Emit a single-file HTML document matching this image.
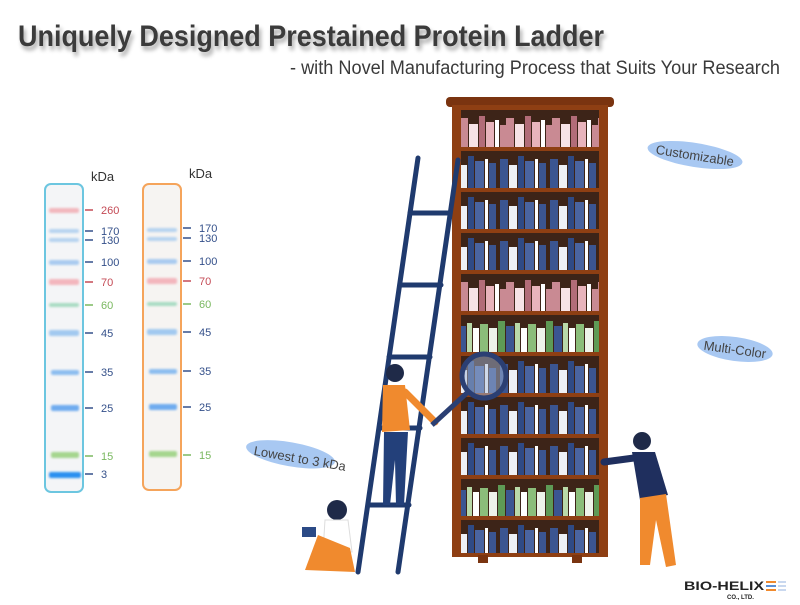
<!DOCTYPE html>
<html><head><meta charset="utf-8"><style>
body{margin:0;background:#fff;}
svg{display:block;font-family:"Liberation Sans",sans-serif;}
</style></head><body>
<svg width="800" height="605" viewBox="0 0 800 605" xmlns="http://www.w3.org/2000/svg">
<defs>
<filter id="sh" x="-5%" y="-20%" width="110%" height="160%"><feGaussianBlur in="SourceAlpha" stdDeviation="2"/><feOffset dx="2" dy="4"/><feComponentTransfer><feFuncA type="linear" slope="0.35"/></feComponentTransfer><feMerge><feMergeNode/><feMergeNode in="SourceGraphic"/></feMerge></filter>
<filter id="bl"><feGaussianBlur stdDeviation="1"/></filter>
<pattern id="pPink" x="0" y="110" width="46" height="41" patternUnits="userSpaceOnUse">
<rect x="0" y="8" width="8" height="29" fill="#c98a93"/><rect x="9" y="14" width="9" height="23" fill="#f7e3e6"/><rect x="19" y="6" width="6" height="31" fill="#b26c78"/><rect x="26" y="12" width="8" height="25" fill="#e8b4bc"/><rect x="35" y="10" width="4" height="27" fill="#fff"/><rect x="40" y="15" width="6" height="22" fill="#c98a93"/></pattern>
<pattern id="pBlue" x="0" y="110" width="50" height="41" patternUnits="userSpaceOnUse">
<rect x="0" y="8" width="8" height="29" fill="#3b5591"/><rect x="9" y="14" width="8" height="23" fill="#eef0f5"/><rect x="18" y="5" width="6" height="32" fill="#2f4a85"/><rect x="25" y="10" width="9" height="27" fill="#4a64a0"/><rect x="35" y="8" width="3" height="29" fill="#fff"/><rect x="39" y="12" width="7" height="25" fill="#3b5591"/></pattern>
<pattern id="pGreen" x="0" y="110" width="48" height="41" patternUnits="userSpaceOnUse">
<rect x="0" y="9" width="8" height="28" fill="#8bbd7a"/><rect x="9" y="13" width="8" height="24" fill="#eef3ea"/><rect x="18" y="6" width="7" height="31" fill="#5e9a55"/><rect x="26" y="11" width="8" height="26" fill="#3b5591"/><rect x="35" y="8" width="5" height="29" fill="#b9d9a9"/><rect x="41" y="13" width="6" height="24" fill="#fff"/></pattern>
</defs>

<!-- title -->
<text x="18" y="46" font-size="30" font-weight="bold" fill="#3a3a3a" filter="url(#sh)" textLength="586" lengthAdjust="spacingAndGlyphs">Uniquely Designed Prestained Protein Ladder</text>
<text x="290" y="74" font-size="19" fill="#3a3a3a" textLength="490" lengthAdjust="spacingAndGlyphs">- with Novel Manufacturing Process that Suits Your Research</text>

<!-- gel ladders -->
<rect x="45" y="184" width="38" height="308" rx="6" fill="#f4f5f7" stroke="#6cc6e0" stroke-width="2"/>
<rect x="143" y="184" width="38" height="306" rx="6" fill="#f6f4f2" stroke="#f5a45b" stroke-width="2"/>
<text x="91" y="181" font-size="13" fill="#333">kDa</text>
<text x="189" y="178" font-size="13" fill="#333">kDa</text>
<g filter="url(#bl)">
<rect x="49" y="208" width="30" height="5" rx="2" fill="#f2b7bd"/>
<rect x="49" y="229" width="30" height="4" rx="2" fill="#b6d3f0"/>
<rect x="49" y="238" width="30" height="4" rx="2" fill="#b6d3f0"/>
<rect x="49" y="260" width="30" height="5" rx="2" fill="#a9cbf0"/>
<rect x="49" y="279" width="30" height="6" rx="2" fill="#f3b6bd"/>
<rect x="49" y="303" width="30" height="4" rx="2" fill="#a9dcc3"/>
<rect x="49" y="330" width="30" height="6" rx="2" fill="#a2c9f0"/>
<rect x="51" y="370" width="28" height="5" rx="2" fill="#8cbdf0"/>
<rect x="51" y="405" width="28" height="6" rx="2" fill="#6facef"/>
<rect x="51" y="452" width="28" height="6" rx="2" fill="#a5d58e"/>
<rect x="49" y="472" width="32" height="6" rx="2" fill="#2b90f0"/>
<rect x="147" y="228" width="30" height="4" rx="2" fill="#b6d3f0"/>
<rect x="147" y="237" width="30" height="4" rx="2" fill="#b6d3f0"/>
<rect x="147" y="259" width="30" height="5" rx="2" fill="#a9cbf0"/>
<rect x="147" y="278" width="30" height="6" rx="2" fill="#f3b6bd"/>
<rect x="147" y="302" width="30" height="4" rx="2" fill="#a9dcc3"/>
<rect x="147" y="329" width="30" height="6" rx="2" fill="#a2c9f0"/>
<rect x="149" y="369" width="28" height="5" rx="2" fill="#8cbdf0"/>
<rect x="149" y="404" width="28" height="6" rx="2" fill="#6facef"/>
<rect x="149" y="451" width="28" height="6" rx="2" fill="#a5d58e"/>
</g>
<g font-size="11">
<g stroke-width="1.5">
<line x1="85" y1="210" x2="93" y2="210" stroke="#c44a55"/><line x1="85" y1="231" x2="93" y2="231" stroke="#34508a"/><line x1="85" y1="240" x2="93" y2="240" stroke="#34508a"/><line x1="85" y1="262" x2="93" y2="262" stroke="#34508a"/><line x1="85" y1="282" x2="93" y2="282" stroke="#c44a55"/><line x1="85" y1="305" x2="93" y2="305" stroke="#7ab860"/><line x1="85" y1="333" x2="93" y2="333" stroke="#34508a"/><line x1="85" y1="372" x2="93" y2="372" stroke="#34508a"/><line x1="85" y1="408" x2="93" y2="408" stroke="#34508a"/><line x1="85" y1="456" x2="93" y2="456" stroke="#7ab860"/><line x1="85" y1="474" x2="93" y2="474" stroke="#34508a"/>
<line x1="183" y1="228" x2="191" y2="228" stroke="#34508a"/><line x1="183" y1="238" x2="191" y2="238" stroke="#34508a"/><line x1="183" y1="261" x2="191" y2="261" stroke="#34508a"/><line x1="183" y1="281" x2="191" y2="281" stroke="#c44a55"/><line x1="183" y1="304" x2="191" y2="304" stroke="#7ab860"/><line x1="183" y1="332" x2="191" y2="332" stroke="#34508a"/><line x1="183" y1="371" x2="191" y2="371" stroke="#34508a"/><line x1="183" y1="407" x2="191" y2="407" stroke="#34508a"/><line x1="183" y1="455" x2="191" y2="455" stroke="#7ab860"/>
</g>
<text x="101" y="214" fill="#c44a55">260</text><text x="101" y="235" fill="#34508a">170</text><text x="101" y="244" fill="#34508a">130</text><text x="101" y="266" fill="#34508a">100</text><text x="101" y="286" fill="#c44a55">70</text><text x="101" y="309" fill="#7ab860">60</text><text x="101" y="337" fill="#34508a">45</text><text x="101" y="376" fill="#34508a">35</text><text x="101" y="412" fill="#34508a">25</text><text x="101" y="460" fill="#7ab860">15</text><text x="101" y="478" fill="#34508a">3</text>
<text x="199" y="232" fill="#34508a">170</text><text x="199" y="242" fill="#34508a">130</text><text x="199" y="265" fill="#34508a">100</text><text x="199" y="285" fill="#c44a55">70</text><text x="199" y="308" fill="#7ab860">60</text><text x="199" y="336" fill="#34508a">45</text><text x="199" y="375" fill="#34508a">35</text><text x="199" y="411" fill="#34508a">25</text><text x="199" y="459" fill="#7ab860">15</text>
</g>

<!-- bookcase -->
<rect x="446" y="97" width="168" height="10" rx="4" fill="#7a3410"/>
<rect x="452" y="105" width="156" height="452" fill="#8e3f13"/>
<rect x="478" y="555" width="10" height="8" fill="#7a3410"/><rect x="572" y="555" width="10" height="8" fill="#7a3410"/>
<g>
<rect x="461" y="110" width="138" height="37" fill="#3d2418"/><rect x="461" y="110" width="138" height="37" fill="url(#pPink)"/>
<rect x="461" y="151" width="138" height="37" fill="#3d2418"/><rect x="461" y="151" width="138" height="37" fill="url(#pBlue)"/>
<rect x="461" y="192" width="138" height="37" fill="#3d2418"/><rect x="461" y="192" width="138" height="37" fill="url(#pBlue)"/>
<rect x="461" y="233" width="138" height="37" fill="#3d2418"/><rect x="461" y="233" width="138" height="37" fill="url(#pBlue)"/>
<rect x="461" y="274" width="138" height="37" fill="#3d2418"/><rect x="461" y="274" width="138" height="37" fill="url(#pPink)"/>
<rect x="461" y="315" width="138" height="37" fill="#3d2418"/><rect x="461" y="315" width="138" height="37" fill="url(#pGreen)"/>
<rect x="461" y="356" width="138" height="37" fill="#3d2418"/><rect x="461" y="356" width="138" height="37" fill="url(#pBlue)"/>
<rect x="461" y="397" width="138" height="37" fill="#3d2418"/><rect x="461" y="397" width="138" height="37" fill="url(#pBlue)"/>
<rect x="461" y="438" width="138" height="37" fill="#3d2418"/><rect x="461" y="438" width="138" height="37" fill="url(#pBlue)"/>
<rect x="461" y="479" width="138" height="37" fill="#3d2418"/><rect x="461" y="479" width="138" height="37" fill="url(#pGreen)"/>
<rect x="461" y="520" width="138" height="33" fill="#3d2418"/><rect x="461" y="520" width="138" height="33" fill="url(#pBlue)"/>
</g>

<!-- ladder -->
<g stroke="#1f3a6e" stroke-width="5" stroke-linecap="round">
<line x1="358" y1="572" x2="418" y2="158"/><line x1="398" y1="572" x2="458" y2="160"/>
<line x1="410" y1="213" x2="450" y2="213"/><line x1="400" y1="285" x2="441" y2="285"/><line x1="389" y1="357" x2="430" y2="357"/><line x1="379" y1="428" x2="420" y2="428"/><line x1="368" y1="505" x2="409" y2="505"/>
</g>

<!-- person on ladder -->
<circle cx="395" cy="373" r="9" fill="#1f2a48"/>
<path d="M383 385 L405 385 L410 430 L382 432 Z" fill="#f08a2e"/>
<path d="M405 392 L435 422" stroke="#f08a2e" stroke-width="7" stroke-linecap="round"/>
<path d="M384 432 L408 432 L404 505 L396 505 L395 460 L390 505 L383 505 Z" fill="#23407a"/>
<circle cx="484" cy="376" r="22" fill="#9fb4d6" fill-opacity="0.5" stroke="#2b3f73" stroke-width="5"/>
<line x1="468" y1="392" x2="432" y2="425" stroke="#2b3f73" stroke-width="5"/>

<!-- right person -->
<circle cx="642" cy="441" r="9" fill="#1f2a48"/>
<path d="M632 452 L655 452 L668 495 L640 500 Z" fill="#1f2f5e"/>
<path d="M634 458 L604 462" stroke="#1f2f5e" stroke-width="7" stroke-linecap="round"/>
<path d="M640 498 L666 494 L676 565 L666 567 L656 520 L650 565 L640 565 Z" fill="#f08a2e"/>

<!-- sitting girl -->
<circle cx="337" cy="510" r="10" fill="#1f2a48"/>
<path d="M325 520 L348 520 L352 552 L323 552 Z" fill="#fff" stroke="#ddd"/>
<path d="M305 570 L318 535 L350 548 L355 572 Z" fill="#f08a2e"/>
<rect x="302" y="527" width="14" height="10" fill="#2b4a86"/>

<!-- bubbles -->
<g transform="rotate(9 695 155)"><ellipse cx="695" cy="155" rx="48" ry="12" fill="#a8c8f2"/><text x="695" y="160" font-size="13" fill="#444" text-anchor="middle">Customizable</text></g>
<g transform="rotate(8 735 349)"><ellipse cx="735" cy="349" rx="38" ry="12" fill="#a8c8f2"/><text x="735" y="354" font-size="13" fill="#444" text-anchor="middle">Multi-Color</text></g>
<g transform="rotate(10 300 458)"><ellipse cx="290" cy="456" rx="45" ry="12" fill="#a8c8f2"/><text x="300" y="463" font-size="13" fill="#444" text-anchor="middle">Lowest to 3 kDa</text></g>

<!-- logo -->
<text x="684" y="590" font-size="12" font-weight="bold" fill="#222" textLength="80" lengthAdjust="spacingAndGlyphs">BIO-HELIX</text>
<rect x="766" y="581" width="10" height="2" fill="#f08a2e"/><rect x="766" y="585" width="10" height="2" fill="#5b8fd6"/><rect x="766" y="589" width="10" height="2" fill="#f08a2e"/>
<rect x="778" y="581" width="8" height="2" fill="#c9d8ef"/><rect x="778" y="585" width="8" height="2" fill="#c9d8ef"/><rect x="778" y="589" width="8" height="2" fill="#c9d8ef"/>
<text x="727" y="599" font-size="6" font-weight="bold" fill="#222">CO., LTD.</text>
</svg>
</body></html>
